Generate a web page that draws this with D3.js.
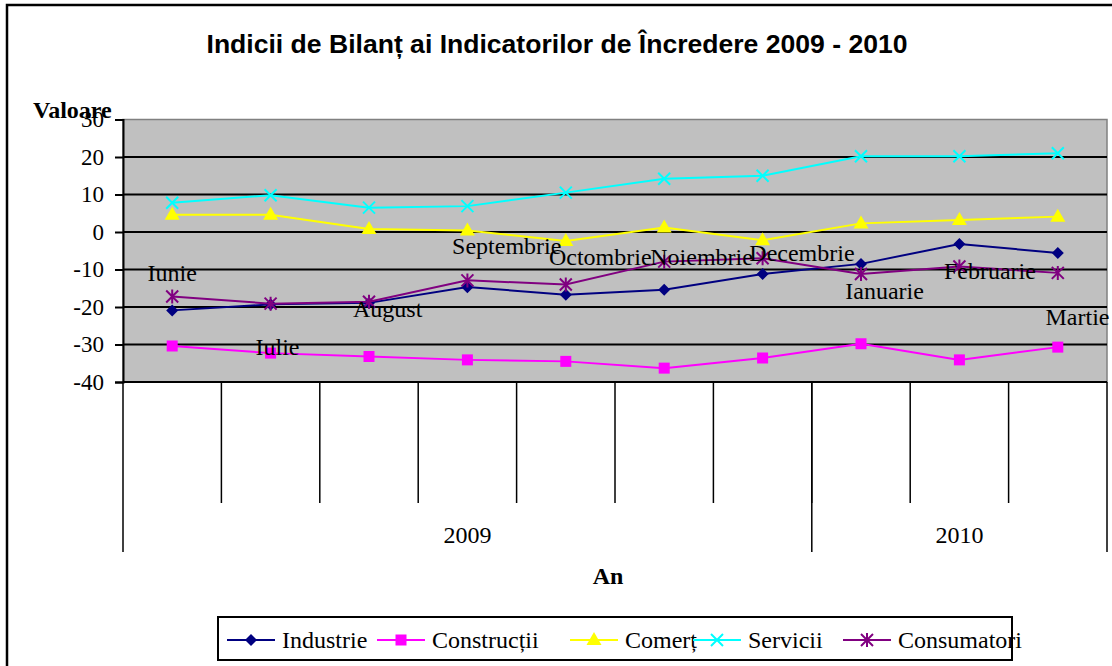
<!DOCTYPE html>
<html>
<head>
<meta charset="utf-8">
<script src="https://cdn.jsdelivr.net/npm/d3@7"></script>
<style>
  html, body { margin: 0; padding: 0; background: #fff; }
  svg { display: block; }
</style>
</head>
<body>
<svg id="chart" width="1112" height="666"></svg>
<script>
// ---------- data ----------
const months = ["Iunie","Iulie","August","Septembrie","Octombrie","Noiembrie","Decembrie","Ianuarie","Februarie","Martie"];
const yearLabels = ["2009","2010"];
const yearSpans = [7, 3];
const yTicks = [-40,-30,-20,-10,0,10,20,30];

const industrie   = [-20.9,-19.3,-18.9,-14.7,-16.7,-15.4,-11.2,-8.5,-3.2,-5.6];
const constructii = [-30.4,-32.3,-33.2,-34.1,-34.5,-36.3,-33.6,-29.8,-34.1,-30.7];
const comert      = [4.6,4.6,0.8,0.4,-2.4,1.2,-2.2,2.3,3.2,4.1];
const servicii    = [7.8,9.8,6.5,6.9,10.5,14.2,15.0,20.2,20.2,21.0];
const consumatori = [-17.2,-19.1,-18.6,-12.9,-14.0,-7.9,-7.0,-11.2,-9.2,-10.9];

// month annotation anchors (category offset in bands, value units)
const labelShift = [0,0.07,0.19,0.4,0.35,0.38,0.4,0.24,0.31,0.2];
const labelValue = [-11,-30.5,-20.5,-3.6,-6.6,-6.6,-5.6,-15.8,-10.4,-22.7];

const seriesNames = ["Industrie","Construcții","Comerț","Servicii","Consumatori"];
const seriesData = [industrie, constructii, comert, servicii, consumatori];
const seriesColors = ["#000080","#FF00FF","#FFFF00","#00FFFF","#800080"];
const seriesMarkers = ["diamond","square","triangle","x","star"];

// ---------- layout ----------
const SERIF = "'Liberation Serif', 'Times New Roman', serif";
const svg = d3.select("#chart");
const P = {left: 123, right: 1107, top: 119.5, bottom: 382};

const x = d3.scaleBand().domain(months).range([P.left, P.right]).padding(0);
const y = d3.scaleLinear().domain([-40, 30]).range([P.bottom, P.top]);

// outer frame
svg.append("rect").attr("x", 7).attr("y", 5).attr("width", 1200).attr("height", 800)
  .attr("fill", "none").attr("stroke", "#000").attr("stroke-width", 2.5);

// title
svg.append("text").attr("x", 557).attr("y", 53).attr("text-anchor", "middle")
  .style("font-family", "'Liberation Sans', Arial, sans-serif").attr("font-weight", "bold")
  .attr("font-size", 26).attr("textLength", 701).attr("lengthAdjust", "spacingAndGlyphs")
  .text("Indicii de Bilanț ai Indicatorilor de Încredere 2009 - 2010");

// plot background
svg.append("rect").attr("x", P.left).attr("y", P.top)
  .attr("width", P.right - P.left).attr("height", P.bottom - P.top)
  .attr("fill", "#C0C0C0").attr("stroke", "#808080").attr("stroke-width", 1.5);

// gridlines
svg.append("g").selectAll("line").data(yTicks.filter(t => t > -40 && t < 30)).join("line")
  .attr("x1", P.left).attr("x2", P.right)
  .attr("y1", d => y(d)).attr("y2", d => y(d))
  .attr("stroke", "#000").attr("stroke-width", 2);

// y axis
const yAxis = svg.append("g").attr("transform", `translate(${P.left},0)`)
  .call(d3.axisLeft(y).tickValues(yTicks).tickSize(8).tickPadding(11).tickFormat(d => String(d)));
yAxis.attr("font-family", null).attr("font-size", null);
yAxis.select(".domain").attr("stroke", "#000").attr("stroke-width", 2);
yAxis.selectAll(".tick line").attr("stroke", "#000").attr("stroke-width", 2);
yAxis.selectAll(".tick text").style("font-family", SERIF).style("font-size", "23px").attr("fill", "#000");

// x axis baseline
svg.append("line").attr("x1", P.left).attr("x2", P.right).attr("y1", P.bottom).attr("y2", P.bottom)
  .attr("stroke", "#000").attr("stroke-width", 2);

// category separators (short)
const bounds = months.map(m => x(m));
svg.append("g").selectAll("line").data(bounds.slice(1)).join("line")
  .attr("x1", d => d).attr("x2", d => d).attr("y1", P.bottom).attr("y2", 503)
  .attr("stroke", "#000").attr("stroke-width", 1.5);

// year separators (long) and labels
let acc = 0;
const yearBounds = [x(months[0])];
const yearCenters = [];
yearSpans.forEach(s => {
  const a = x(months[acc]);
  acc += s;
  const b = acc < months.length ? x(months[acc]) : P.right;
  yearBounds.push(b);
  yearCenters.push((a + b) / 2);
});
svg.append("g").selectAll("line").data(yearBounds).join("line")
  .attr("x1", d => d).attr("x2", d => d).attr("y1", P.bottom).attr("y2", 552)
  .attr("stroke", "#000").attr("stroke-width", 1.5);
svg.append("g").selectAll("text").data(yearLabels).join("text")
  .attr("x", (d, i) => yearCenters[i]).attr("y", 543).attr("text-anchor", "middle")
  .style("font-family", SERIF).attr("font-size", 24).text(d => d);

// axis titles
svg.append("text").attr("x", 608).attr("y", 584).attr("text-anchor", "middle")
  .style("font-family", SERIF).attr("font-weight", "bold").attr("font-size", 24).text("An");

// series
const line = d3.line().x((d, i) => x(months[i]) + x.bandwidth() / 2).y(d => y(d));

function drawMarker(g, type, color, cx, cy) {
  if (type === "diamond") {
    g.append("path").attr("d", `M${cx},${cy-6}L${cx+6},${cy}L${cx},${cy+6}L${cx-6},${cy}Z`).attr("fill", color);
  } else if (type === "square") {
    g.append("rect").attr("x", cx-5.5).attr("y", cy-5.5).attr("width", 11).attr("height", 11).attr("fill", color);
  } else if (type === "triangle") {
    g.append("path").attr("d", `M${cx},${cy-8}L${cx+7.5},${cy+5}L${cx-7.5},${cy+5}Z`).attr("fill", color);
  } else if (type === "x") {
    g.append("path").attr("d", `M${cx-6},${cy-6}L${cx+6},${cy+6}M${cx+6},${cy-6}L${cx-6},${cy+6}`)
      .attr("stroke", color).attr("stroke-width", 2).attr("fill", "none");
  } else if (type === "star") {
    g.append("path").attr("d", `M${cx-6},${cy-6}L${cx+6},${cy+6}M${cx+6},${cy-6}L${cx-6},${cy+6}M${cx},${cy-7}L${cx},${cy+7}`)
      .attr("stroke", color).attr("stroke-width", 2).attr("fill", "none");
  }
}

seriesData.forEach((data, si) => {
  const g = svg.append("g");
  g.append("path").datum(data).attr("d", line).attr("fill", "none")
    .attr("stroke", seriesColors[si]).attr("stroke-width", 2);
  data.forEach((v, i) => drawMarker(g, seriesMarkers[si], seriesColors[si], x(months[i]) + x.bandwidth()/2, y(v)));
});

// month labels
svg.append("g").selectAll("text").data(months).join("text")
  .attr("x", (d, i) => x(d) + x.bandwidth() * (0.5 + labelShift[i]))
  .attr("y", (d, i) => y(labelValue[i])).attr("dy", "0.34em")
  .attr("text-anchor", "middle")
  .style("font-family", SERIF).attr("font-size", 24).attr("fill", "#000")
  .text(d => d);

// y axis title (drawn over the 30 label as in the reference)
svg.append("text").attr("x", 33).attr("y", 118)
  .style("font-family", SERIF).attr("font-weight", "bold").attr("font-size", 24).text("Valoare");

// legend
svg.append("rect").attr("x", 218).attr("y", 617).attr("width", 794).attr("height", 43)
  .attr("fill", "#fff").attr("stroke", "#000").attr("stroke-width", 2);
const legendX = [227, 377, 570, 693, 843];
const lg = svg.append("g");
seriesNames.forEach((name, i) => {
  const lx = legendX[i], ly = 640;
  lg.append("line").attr("x1", lx).attr("x2", lx + 48).attr("y1", ly).attr("y2", ly)
    .attr("stroke", seriesColors[i]).attr("stroke-width", 2);
  drawMarker(lg, seriesMarkers[i], seriesColors[i], lx + 24, ly);
  lg.append("text").attr("x", lx + 55).attr("y", ly + 8)
    .style("font-family", SERIF).attr("font-size", 24).text(name);
});
</script>
</body>
</html>
